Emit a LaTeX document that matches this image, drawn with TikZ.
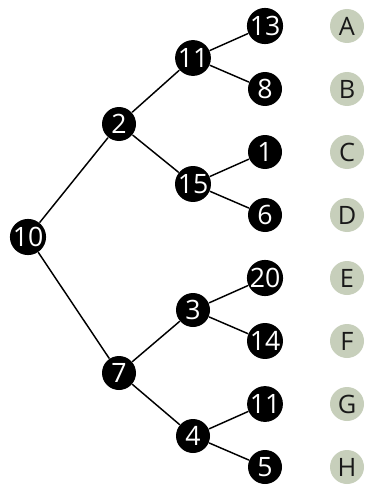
\documentclass[tikz,border=0pt]{standalone}
\usepackage{fontspec}
\setmainfont{Open Sans}
\usepackage{tikz}
\usepackage{xcolor}
\definecolor{sage}{RGB}{199,207,187}
\definecolor{inkgray}{RGB}{25,25,25}

\begin{document}
\begin{tikzpicture}[x=0.75pt,y=-0.75pt,line width=1.1pt,line cap=round,
  dot/.style={circle,fill=black,text=white,inner sep=0pt,minimum size=25.5pt,font=\fontsize{20}{20}\selectfont},
  tag/.style={circle,fill=sage,text=inkgray,inner sep=0pt,minimum size=25.5pt,font=\fontsize{19}{19}\selectfont}]
\useasboundingbox (0,0) rectangle (364,485);
\node[dot] (n10) at (28,237) {10};
\node[dot] (n2) at (119,124) {2};
\node[dot] (n7) at (119,373) {7};
\node[dot] (n11) at (193,58) {11};
\node[dot] (n15) at (193,184) {15};
\node[dot] (n3) at (193,310) {3};
\node[dot] (n4) at (193,436) {4};
\node[dot] (l13) at (265,26) {13};
\node[dot] (l8) at (265,89) {8};
\node[dot] (l1) at (265,152) {1};
\node[dot] (l6) at (265,215) {6};
\node[dot] (l20) at (265,278) {20};
\node[dot] (l14) at (265,341) {14};
\node[dot] (l11) at (265,404) {11};
\node[dot] (l5) at (265,467) {5};
\node[tag] (tA) at (347,26) {A};
\node[tag] (tB) at (347,89) {B};
\node[tag] (tC) at (347,152) {C};
\node[tag] (tD) at (347,215) {D};
\node[tag] (tE) at (347,278) {E};
\node[tag] (tF) at (347,341) {F};
\node[tag] (tG) at (347,404) {G};
\node[tag] (tH) at (347,467) {H};
\draw (n10) -- (n2);
\draw (n10) -- (n7);
\draw (n2) -- (n11);
\draw (n2) -- (n15);
\draw (n7) -- (n3);
\draw (n7) -- (n4);
\draw (n11) -- (l13);
\draw (n11) -- (l8);
\draw (n15) -- (l1);
\draw (n15) -- (l6);
\draw (n3) -- (l20);
\draw (n3) -- (l14);
\draw (n4) -- (l11);
\draw (n4) -- (l5);
\end{tikzpicture}
\end{document}
